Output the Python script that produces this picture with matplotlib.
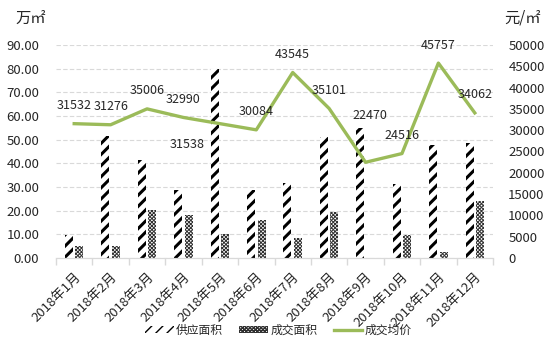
import matplotlib
matplotlib.use("Agg")
import matplotlib.pyplot as plt
from matplotlib.patches import Patch
from matplotlib.lines import Line2D
import numpy as np

plt.rcParams['font.family'] = ['Noto Sans CJK SC', 'DejaVu Sans']

months = ["2018年1月", "2018年2月", "2018年3月", "2018年4月", "2018年5月", "2018年6月",
          "2018年7月", "2018年8月", "2018年9月", "2018年10月", "2018年11月", "2018年12月"]
supply_area = [9.7, 51.5, 41.4, 28.7, 79.8, 28.7, 31.8, 51.2, 54.8, 31.3, 47.7, 48.5]
deal_area = [5.1, 5.1, 20.3, 18.2, 10.1, 16.1, 8.6, 19.3, 0.0, 9.7, 2.7, 24.2]
avg_price = [31532, 31276, 35006, 32990, 31538, 30084, 43545, 35101, 22470, 24516, 45757, 34062]

# label offsets in pixels (most sit above the point)
label_offsets = {4: (-33, -21), 8: (4, 47)}

text_color = "#262626"
grid_color = "#D9D9D9"
line_color = "#9BBB59"
stripe = dict(facecolor="white", edgecolor="black", hatch="///", linewidth=0)
check = dict(facecolor="white", edgecolor="#303030", hatch="xxxxxxxxx", linewidth=0)

fig = plt.figure(figsize=(5.51, 3.56), dpi=100)
ax = fig.add_axes([56 / 551, 1 - 258 / 356, 437 / 551, 213 / 356])
ax2 = ax.twinx()

x = np.arange(len(months))
w = 0.22
with plt.rc_context({"hatch.linewidth": 2.2}):
    ax.bar(x - 0.145, supply_area, w, **stripe)
    h1 = Patch(**stripe)
with plt.rc_context({"hatch.linewidth": 0.7}):
    ax.bar(x + 0.145, deal_area, w, **check)
    h2 = Patch(**check)

ax.set_ylim(0, 90)
ax.set_yticks(np.arange(0, 91, 10))
ax.set_yticklabels([f"{v:.2f}" for v in np.arange(0, 91, 10)])
ax.set_xlim(-0.5, 11.5)
ax.grid(axis="y", color=grid_color, linestyle=(0, (4, 2)), linewidth=0.8)
ax.set_axisbelow(True)

ax.set_xticks(x)
ax.set_xticklabels(months, rotation=45, ha="right", rotation_mode="anchor")
ax.set_xticks(np.arange(-0.5, 12, 1), minor=True)
ax.tick_params(axis="x", which="major", length=0, pad=9, labelsize=9.5, colors=text_color)
ax.tick_params(axis="x", which="minor", length=5, color=grid_color, width=1)
ax.tick_params(axis="y", length=0, labelsize=9.5, labelcolor=text_color, pad=12)

ax2.plot(x, avg_price, color=line_color, linewidth=2.4)
ax2.set_ylim(0, 50000)
ax2.set_yticks(np.arange(0, 50001, 5000))
ax2.tick_params(axis="y", length=0, labelsize=9.5, labelcolor=text_color, pad=11)

for i, v in enumerate(avg_price):
    dx, dy = label_offsets.get(i, (0, 18))
    ax2.annotate(str(v), (x[i], v), xytext=(dx, dy), textcoords="offset pixels",
                 ha="center", va="center", fontsize=9, color=text_color)

for a in (ax, ax2):
    for s in ("left", "right", "top"):
        a.spines[s].set_visible(False)
    a.spines["bottom"].set_color(grid_color)

fig.text(15 / 551, 1 - 18 / 356, "万㎡", fontsize=11, color=text_color, va="center")
fig.text(504 / 551, 1 - 18 / 356, "元/㎡", fontsize=11, color=text_color, va="center")

handles = [h1, h2, Line2D([], [], color=line_color, linewidth=2.4)]
fig.legend(handles, ["供应面积", "成交面积", "成交均价"], loc="center", ncol=3,
           bbox_to_anchor=(0.505, 1 - 330 / 356), frameon=False, fontsize=8.5,
           handlelength=2.4, handleheight=0.6, handletextpad=0.2, columnspacing=1.4,
           labelcolor=text_color)

fig.savefig("out.png", dpi=100)
